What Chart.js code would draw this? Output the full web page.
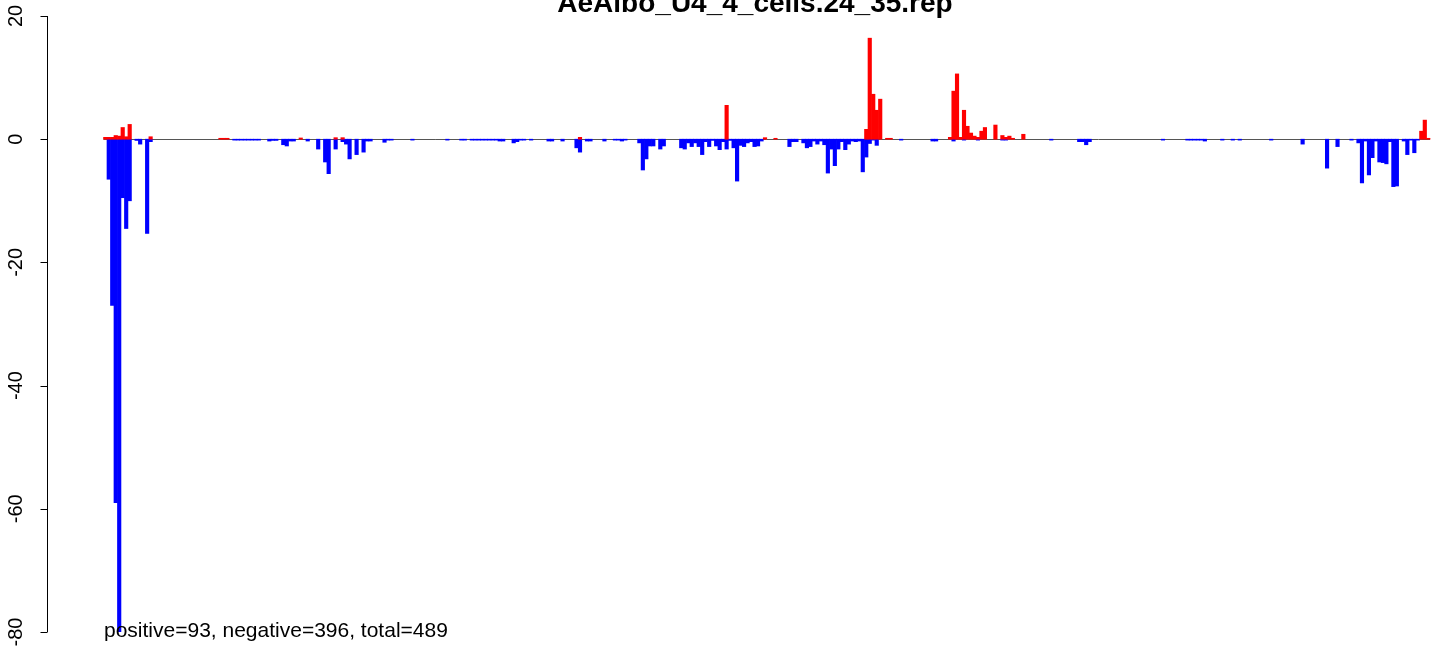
<!DOCTYPE html>
<html>
<head>
<meta charset="utf-8">
<script src="https://cdn.jsdelivr.net/npm/chart.js@4"></script>
<style>
  html, body { margin: 0; padding: 0; background: #fff; overflow: hidden; }
  #wrap { width: 1444px; height: 647px; position: relative; }
</style>
</head>
<body>
<div id="wrap"><canvas id="chart" width="1444" height="647"></canvas></div>
<script>
// AeAlbo_U4_4_cells.24_35.rep - signed bar plot, R style

const titleText = 'AeAlbo_U4_4_cells.24_35.rep';
const footText = 'positive=93, negative=396, total=489';
const slotCount = 380;

// red (positive) bars: slot index and value
const posIndex = [0, 1, 2, 3, 4, 5, 6, 7, 13, 33, 34, 35, 56, 66, 68, 136, 178, 189, 192,
  218, 219, 220, 221, 222, 224, 225,
  242, 243, 244, 245, 246, 247, 248, 249, 250, 251, 252, 255, 257, 258, 259, 260, 263,
  377, 378, 379];
const posValue = [0.3, 0.3, 0.3, 0.6, 0.5, 1.9, 0.4, 2.4, 0.4, 0.15, 0.15, 0.15, 0.2, 0.25, 0.25, 0.3, 5.5, 0.25, 0.15,
  1.6, 16.4, 7.3, 4.7, 6.5, 0.15, 0.15,
  0.3, 7.8, 10.6, 0.3, 4.7, 2.1, 1.0, 0.5, 0.3, 1.3, 1.9, 2.3, 0.6, 0.3, 0.5, 0.15, 0.8,
  1.3, 3.1, 0.15];

// blue (negative) bars: slot index and value
const negIndex = [1, 2, 3, 4, 5, 6, 7, 9, 10, 12, 13,
  37, 38, 39, 40, 41, 42, 43, 44,
  47, 48, 49, 51, 52, 53, 54, 58, 61, 63, 64, 66, 68, 69, 70, 72, 74, 75, 76, 80,
  81, 82, 88, 98, 102, 103, 105, 106, 107, 108, 109, 110, 111, 112, 113, 114,
  117, 118, 119, 120, 122, 127, 128, 131, 135, 136, 138, 139, 143, 146, 147, 148, 149,
  153, 154, 155, 156, 157, 159, 160, 165, 166, 167, 168, 169, 170, 171, 172, 173, 174, 175, 176, 177, 178, 179, 180, 181, 182, 183, 184, 185, 186, 187, 188,
  196, 197, 198, 200, 201, 202, 203, 204, 205, 206, 207, 208, 209, 210, 211, 212, 213, 214, 215, 216, 217, 218, 219, 220, 221, 228,
  237, 238, 243, 246, 250, 257, 258,
  271, 279, 280, 281, 282, 303,
  310, 311, 312, 313, 314, 315, 320, 323, 325, 334,
  343, 350, 353, 357, 359, 360, 361, 362, 363, 364, 365, 366, 367, 368, 369, 370, 372, 373, 374, 375, 376];
const negValue = [-6.5, -27, -59, -80, -9.5, -14.5, -10, -0.2, -0.8, -15.3, -0.4,
  -0.15, -0.15, -0.15, -0.15, -0.15, -0.15, -0.15, -0.15,
  -0.3, -0.2, -0.2, -0.9, -1.1, -0.3, -0.3, -0.3, -1.6, -3.7, -5.6, -1.6, -0.4, -0.8, -3.2, -2.5, -2.1, -0.3, -0.3, -0.5,
  -0.15, -0.15, -0.15, -0.15, -0.15, -0.15, -0.15, -0.15, -0.15, -0.15, -0.15, -0.15, -0.15, -0.15, -0.3, -0.3,
  -0.6, -0.4, -0.15, -0.15, -0.15, -0.3, -0.3, -0.3, -1.4, -2.1, -0.3, -0.3, -0.3, -0.15, -0.15, -0.3, -0.15,
  -0.6, -5.0, -3.2, -1.1, -1.1, -1.6, -1.1, -1.4, -1.6, -0.6, -1.2, -0.6, -1.2, -2.5, -0.4, -1.2, -0.2, -1.1, -1.7, -0.4, -1.6, -0.2, -1.4, -6.8, -1.0, -1.2, -0.6, -0.4, -1.2, -1.1, -0.3,
  -1.2, -0.4, -0.4, -0.6, -1.4, -1.2, -0.3, -0.8, -0.3, -0.9, -5.5, -1.6, -4.3, -1.6, -0.4, -1.7, -0.8, -0.3, -0.4, -0.3, -5.3, -2.9, -0.7, -0.15, -1.0, -0.15,
  -0.3, -0.3, -0.3, -0.15, -0.15, -0.15, -0.15,
  -0.15, -0.4, -0.4, -0.9, -0.4, -0.15,
  -0.15, -0.15, -0.15, -0.15, -0.15, -0.3, -0.15, -0.15, -0.15, -0.15,
  -0.8, -4.7, -1.2, -0.15, -0.6, -7.1, -0.3, -5.8, -3.0, -0.3, -3.7, -3.8, -4.0, -0.4, -7.7, -7.6, -0.3, -2.5, -0.15, -2.2, -0.15];

const yTicks = [-80, -60, -40, -20, 0, 20];

const toPoints = (idx, vals) => idx.map((s, i) => ({ x: s, y: vals[i] }));

// R-like decorations: zero line, left axis, title, footnote
const rDecor = {
  id: 'rDecor',
  beforeDatasetsDraw(chart) {
    const { ctx, scales: { x, y } } = chart;
    const y0 = Math.round(y.getPixelForValue(0)) + 0.5;
    ctx.save();
    ctx.strokeStyle = '#555555';
    ctx.lineWidth = 1;
    ctx.beginPath();
    ctx.moveTo(x.getPixelForValue(-0.5), y0);
    ctx.lineTo(x.getPixelForValue(slotCount - 0.5), y0);
    ctx.stroke();
    ctx.restore();
  },
  afterDraw(chart) {
    const { ctx, chartArea, scales: { y } } = chart;
    const ax = chartArea.left + 0.5;
    ctx.save();
    ctx.strokeStyle = '#000';
    ctx.lineWidth = 1;
    ctx.beginPath();
    ctx.moveTo(ax, y.getPixelForValue(yTicks[0]));
    ctx.lineTo(ax, y.getPixelForValue(yTicks[yTicks.length - 1]));
    yTicks.forEach((t) => {
      const py = Math.round(y.getPixelForValue(t)) + 0.5;
      ctx.moveTo(ax, py);
      ctx.lineTo(ax - 7, py);
    });
    ctx.stroke();

    ctx.fillStyle = '#000';
    ctx.font = '20px "Liberation Sans", Arial, sans-serif';
    ctx.textAlign = 'center';
    ctx.textBaseline = 'alphabetic';
    yTicks.forEach((t) => {
      const py = y.getPixelForValue(t);
      ctx.save();
      ctx.translate(22, py);
      ctx.rotate(-Math.PI / 2);
      ctx.fillText(String(t), 0, 0);
      ctx.restore();
    });

    ctx.font = 'bold 28px "Liberation Sans", Arial, sans-serif';
    ctx.textAlign = 'center';
    ctx.fillText(titleText, 755, 12);

    ctx.font = '21px "Liberation Sans", Arial, sans-serif';
    ctx.textAlign = 'left';
    ctx.fillText(footText, 104, 637);
    ctx.restore();
  }
};

new Chart(document.getElementById('chart'), {
  type: 'bar',
  data: {
    datasets: [
      {
        label: 'positive',
        data: toPoints(posIndex, posValue),
        backgroundColor: '#ff0000',
        borderWidth: 0,
        grouped: false,
        barPercentage: 1,
        categoryPercentage: 1
      },
      {
        label: 'negative',
        data: toPoints(negIndex, negValue),
        backgroundColor: '#0000ff',
        borderWidth: 0,
        grouped: false,
        barPercentage: 1,
        categoryPercentage: 1
      }
    ]
  },
  options: {
    responsive: false,
    animation: false,
    devicePixelRatio: 1,
    layout: { padding: { left: 47, top: 16, right: 0, bottom: 15 } },
    plugins: { legend: { display: false }, tooltip: { enabled: false } },
    scales: {
      x: { type: 'linear', min: -16.686, max: 383.5, offset: false, display: false },
      y: { min: -80, max: 20, display: false }
    }
  },
  plugins: [rDecor]
});
</script>
</body>
</html>
